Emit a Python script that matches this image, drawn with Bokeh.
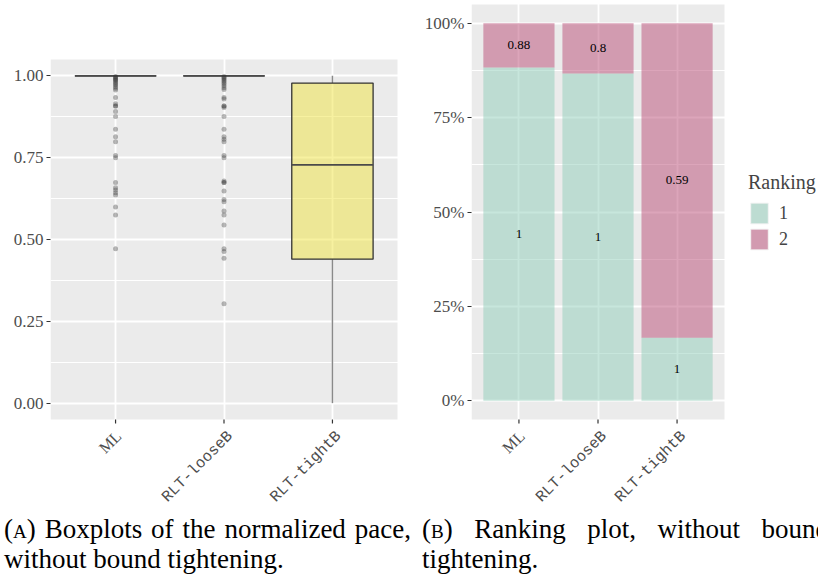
import math

from bokeh.core.properties import value
from bokeh.embed import file_html
from bokeh.layouts import column, row
from bokeh.models import (ColumnDataSource, Div, FixedTicker, Legend,
                          LegendItem, Range1d)
from bokeh.plotting import figure
from bokeh.resources import INLINE

# ---------------------------------------------------------------- data
methods = ["ML", "RLT-looseB", "RLT-tightB"]
method_pos = [1, 2, 3]

# (A) normalized pace: box statistics per method
box_q1 = [1.0, 1.0, 0.440]
box_median = [1.0, 1.0, 0.728]
box_q3 = [1.0, 1.0, 0.978]
whisker_low = [1.0, 1.0, 0.0]
whisker_high = [1.0, 1.0, 1.0]

outliers_ml = [0.998, 0.996, 0.993, 0.990, 0.987, 0.984, 0.980, 0.976, 0.972,
               0.967, 0.962, 0.957, 0.934, 0.915, 0.908, 0.908, 0.891, 0.876,
               0.837, 0.814, 0.799, 0.757, 0.750, 0.674, 0.658, 0.651, 0.643,
               0.636, 0.599, 0.575, 0.472]
outliers_loose = [0.998, 0.995, 0.992, 0.988, 0.984, 0.980, 0.975, 0.970,
                  0.964, 0.958, 0.934, 0.929, 0.908, 0.908, 0.903, 0.876,
                  0.837, 0.814, 0.806, 0.799, 0.757, 0.750, 0.679, 0.674,
                  0.674, 0.648, 0.622, 0.615, 0.587, 0.575, 0.544, 0.472,
                  0.463, 0.443, 0.304]
outliers_tight = []

pace_ticks = [0.0, 0.25, 0.5, 0.75, 1.0]
pace_tick_labels = ["0.00", "0.25", "0.50", "0.75", "1.00"]

# (B) ranking shares per method
rank1_share = [0.883, 0.867, 0.167]
rank2_share = [0.117, 0.133, 0.833]
rank1_text = ["1", "1", "1"]
rank2_text = ["0.88", "0.8", "0.59"]
rank_names = ["1", "2"]

share_ticks = [0.0, 0.25, 0.5, 0.75, 1.0]
share_tick_labels = ["0%", "25%", "50%", "75%", "100%"]

caption_a = ["(<span style='font-variant:small-caps'>a</span>) Boxplots of the normalized pace,",
             "without bound tightening."]
caption_b = ["(<span style='font-variant:small-caps'>b</span>) Ranking plot, without bound",
             "tightening."]

# ---------------------------------------------------------------- style
PANEL = "#EBEBEB"
TICK_TEXT = "#4D4D4D"
SERIF = "Liberation Serif"
MONO = "Liberation Mono"
RANK_COLORS = ["#8FCDBA", "#B94B76"]          # drawn at half alpha
RANK_KEYS = ["#BDDCD2", "#D29AB0"]            # same colours as seen on grey

# the grey panel covers the categories +-0.6 and the values 0..1 padded by 5%
PANEL_X = (0.4, 3.6)
PANEL_Y = (-0.05, 1.05)


class Geometry:
    """Maps the grey panel, given in frame pixels, onto data ranges."""

    def __init__(self, frame_w, frame_h, left, right, top, bottom):
        self.sx = (right - left) / (PANEL_X[1] - PANEL_X[0])
        self.sy = (bottom - top) / (PANEL_Y[1] - PANEL_Y[0])
        self.x0 = PANEL_X[0] - left / self.sx
        self.x1 = self.x0 + frame_w / self.sx
        self.y1 = PANEL_Y[1] + top / self.sy
        self.y0 = self.y1 - frame_h / self.sy

    def y_at(self, py):
        return self.y1 - py / self.sy

    def dy(self, px):
        return px / self.sy


def minor_between(ticks):
    return [(a + b) / 2 for a, b in zip(ticks[:-1], ticks[1:])]


def make_panel(width, height, border_left, geo, yticks, ylabels):
    p = figure(width=width, height=height, title=None,
               x_range=Range1d(geo.x0, geo.x1), y_range=Range1d(geo.y0, geo.y1),
               min_border_left=border_left, min_border_right=0,
               min_border_top=0, min_border_bottom=0,
               output_backend="svg", toolbar_location=None)
    p.background_fill_color = "white"
    p.border_fill_color = "white"
    p.outline_line_color = None

    # grey plotting panel underneath the grid
    p.quad(left=[PANEL_X[0]], right=[PANEL_X[1]],
           bottom=[PANEL_Y[0]], top=[PANEL_Y[1]],
           fill_color=PANEL, line_color=None, level="image")

    p.xaxis.visible = False
    p.yaxis.ticker = FixedTicker(ticks=yticks, minor_ticks=minor_between(yticks))
    p.yaxis.major_label_overrides = dict(zip(yticks, ylabels))
    ax = p.yaxis[0]
    ax.axis_line_color = None
    ax.major_tick_line_color = "#333333"
    ax.major_tick_line_width = 1.2
    ax.major_tick_in = 0
    ax.major_tick_out = 4
    ax.minor_tick_line_color = None
    ax.major_label_text_font = SERIF
    ax.major_label_text_font_size = "17px"
    ax.major_label_text_color = TICK_TEXT
    ax.major_label_standoff = 3

    p.xgrid.ticker = FixedTicker(ticks=method_pos)
    p.xgrid.grid_line_color = "white"
    p.xgrid.grid_line_width = 1.8
    p.ygrid.grid_line_color = "white"
    p.ygrid.grid_line_width = 1.8
    p.ygrid.minor_grid_line_color = "white"
    p.ygrid.minor_grid_line_width = 1.0

    # category ticks under the panel
    p.segment(x0=method_pos, x1=method_pos,
              y0=[PANEL_Y[0]] * len(method_pos),
              y1=[PANEL_Y[0] - geo.dy(4)] * len(method_pos),
              line_color="#333333", line_width=1.2)

    # category names, turned 45 degrees and ending at their tick
    label_y = geo.y_at(427)
    p.text(x=method_pos[:1], y=[label_y], text=methods[:1], angle=math.pi / 4,
           text_align="right", text_baseline="top", x_offset=-3,
           text_font=value(SERIF), text_font_size="16px", text_color=TICK_TEXT)
    p.text(x=method_pos[1:], y=[label_y] * 2, text=methods[1:], angle=math.pi / 4,
           text_align="right", text_baseline="top",
           text_font=value(MONO), text_font_size="15.5px", text_color=TICK_TEXT)
    return p


# ---------------------------------------------------------------- panel A
geo_a = Geometry(frame_w=360, frame_h=505, left=0, right=347, top=59, bottom=419)
pa = make_panel(410, 505, 50, geo_a, pace_ticks, pace_tick_labels)

box_width = 0.75
pa.segment(x0=method_pos, y0=box_q3, x1=method_pos, y1=whisker_high,
           line_color="#8a8a8a", line_width=1.5)
pa.segment(x0=method_pos, y0=box_q1, x1=method_pos, y1=whisker_low,
           line_color="#8a8a8a", line_width=1.5)
pa.vbar(x=method_pos, bottom=box_q1, top=box_q3, width=box_width,
        fill_color="#F0E442", fill_alpha=0.5,
        line_color="#333333", line_width=1.3)
pa.segment(x0=[x - box_width / 2 for x in method_pos], y0=box_median,
           x1=[x + box_width / 2 for x in method_pos], y1=box_median,
           line_color="#4a4a4a", line_width=1.8)

out_x, out_y = [], []
for x, pts in zip(method_pos, [outliers_ml, outliers_loose, outliers_tight]):
    out_x += [x] * len(pts)
    out_y += pts
pa.scatter(x=out_x, y=out_y, size=5, fill_color="#333333", fill_alpha=0.35,
           line_color=None)

# ---------------------------------------------------------------- panel B
geo_b = Geometry(frame_w=347, frame_h=505, left=0, right=253, top=4, bottom=419)
pb = make_panel(408, 505, 61, geo_b, share_ticks, share_tick_labels)

src = ColumnDataSource(dict(x=method_pos, r1=rank1_share, r2=rank2_share))
pb.vbar_stack(["r1", "r2"], x="x", width=0.9, source=src,
              fill_color=RANK_COLORS, fill_alpha=0.5, line_color=None)

pb.text(x=method_pos, y=[v / 2 for v in rank1_share], text=rank1_text,
        text_font=value(SERIF), text_font_size="13px",
        text_align="center", text_baseline="middle", text_color="black")
pb.text(x=method_pos, y=[a + b / 2 for a, b in zip(rank1_share, rank2_share)],
        text=rank2_text, text_font=value(SERIF), text_font_size="13px",
        text_align="center", text_baseline="middle", text_color="black")

# legend keys: solid versions of the bar colours, kept off the panel itself
key_renderers = [pb.vbar(x=method_pos, top=share, width=0.9, fill_color=c,
                         line_color="#f4f4f4", line_width=1, visible=False)
                 for c, share in zip(RANK_KEYS, [rank1_share, rank2_share])]
legend = Legend(items=[LegendItem(label=n, renderers=[r], index=0)
                       for n, r in zip(rank_names, key_renderers)],
                title="Ranking", location=(277, 253),
                title_text_font=SERIF, title_text_font_size="20px",
                title_text_font_style="normal", title_standoff=6,
                label_text_font=SERIF, label_text_font_size="18px",
                glyph_width=22, glyph_height=26, spacing=0, padding=0,
                margin=0, label_standoff=9, inactive_fill_alpha=0,
                border_line_color=None, background_fill_alpha=0)
pb.add_layout(legend)

# ---------------------------------------------------------------- captions


def caption(lines, width):
    first = ("<div style='text-align:justify;text-align-last:justify;'>%s</div>"
             % lines[0])
    second = "<div style='text-align:left;'>%s</div>" % lines[1]
    html = ("<div style='width:%dpx;height:73px;overflow:hidden;'>"
            "<div style='margin-left:4px;padding-top:9px;width:407px;"
            "font-family:\"Liberation Serif\";font-size:27px;line-height:30px;"
            "color:black;'>%s%s</div></div>" % (width, first, second))
    return Div(text=html, width=width, height=73, margin=0)


div_a = caption(caption_a, 418)
div_b = caption(caption_b, 400)

layout = column(row(pa, pb), row(div_a, div_b))

with open("out.html", "w") as fh:
    fh.write(file_html(layout, INLINE))
